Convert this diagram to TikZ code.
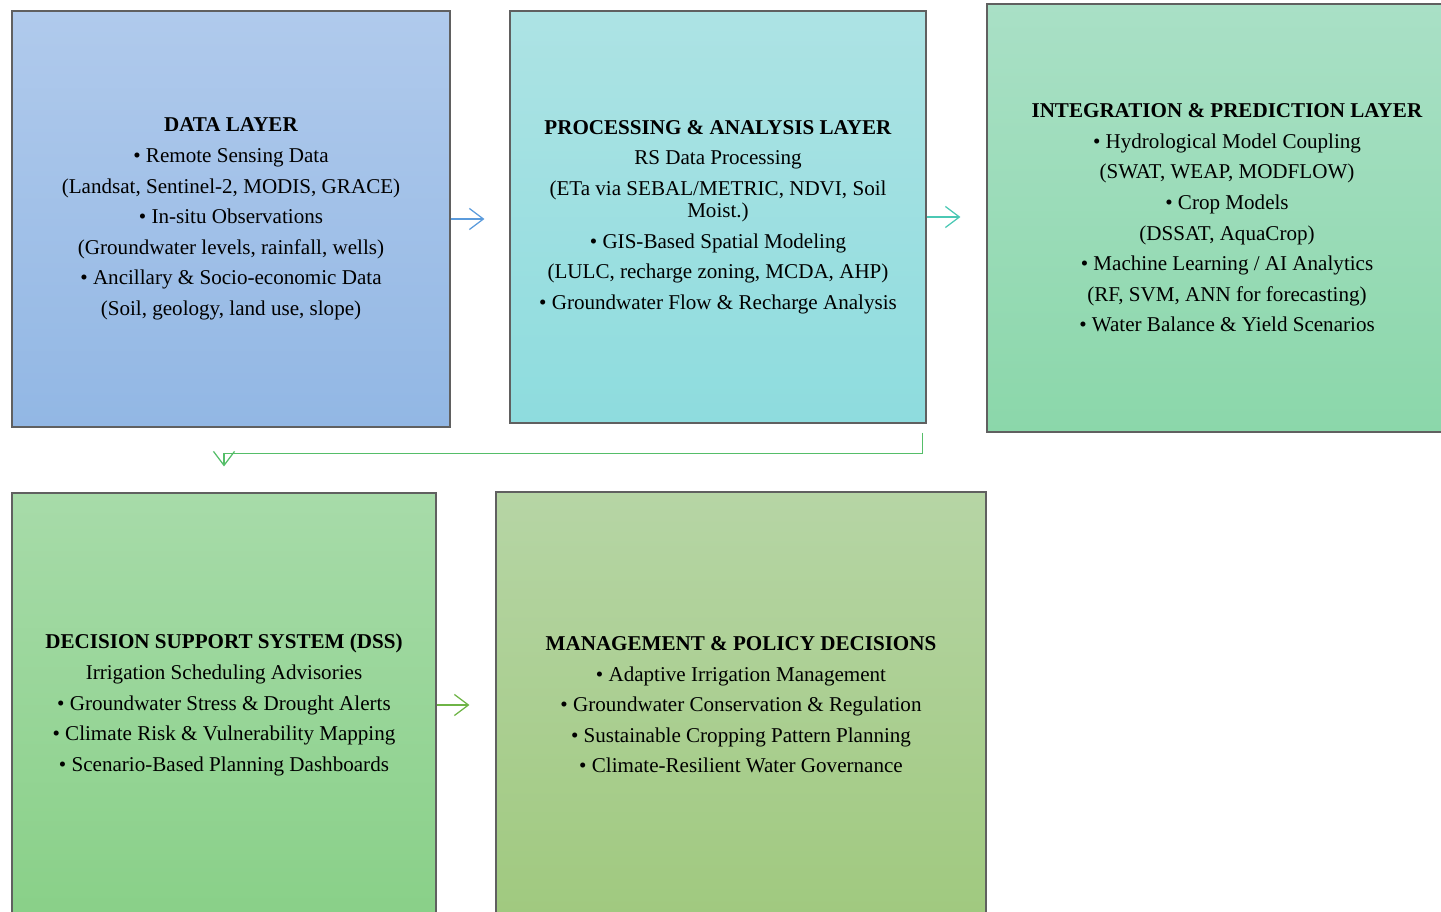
\documentclass[tikz,border=0pt]{standalone}
\usepackage{fontspec}
\setmainfont{Liberation Serif}
\usetikzlibrary{arrows.meta,positioning}
\definecolor{datatop}{RGB}{176,202,236}
\definecolor{databot}{RGB}{146,183,228}
\definecolor{proctop}{RGB}{173,227,228}
\definecolor{procbot}{RGB}{142,220,222}
\definecolor{integtop}{RGB}{169,224,198}
\definecolor{integbot}{RGB}{139,215,170}
\definecolor{dsstop}{RGB}{167,219,169}
\definecolor{dssbot}{RGB}{137,208,136}
\definecolor{mgmttop}{RGB}{182,213,165}
\definecolor{mgmtbot}{RGB}{160,201,127}
\definecolor{arrblue}{RGB}{91,155,220}
\definecolor{arrcyan}{RGB}{75,200,180}
\definecolor{arrgreen}{RGB}{85,190,105}
\definecolor{arrolive}{RGB}{110,180,70}

\begin{document}
\begin{tikzpicture}[x=0.02cm,y=-0.02cm,
    layerbox/.style={draw=gray!75!black, line width=0.7pt, align=center, inner sep=0pt,
        font=\fontsize{12}{12.5}\selectfont},
    flow/.style={-{Straight Barb[length=8pt,width=12pt]}, line width=0.7pt}]
    \useasboundingbox (0,0) rectangle (1441,912);
    \clip (0,0) rectangle (1441,912);

    \node[layerbox, top color=datatop, bottom color=databot,
        minimum width=8.76cm, minimum height=8.32cm] (data) at (231,219)
        {\textbf{DATA LAYER}\\[4.9pt]
        • Remote Sensing Data\\[4.9pt]
        (Landsat, Sentinel-2, MODIS, GRACE)\\[4.9pt]
        • In-situ Observations\\[4.9pt]
        (Groundwater levels, rainfall, wells)\\[4.9pt]
        • Ancillary \& Socio-economic Data\\[4.9pt]
        (Soil, geology, land use, slope)};

    \node[layerbox, top color=proctop, bottom color=procbot,
        minimum width=8.32cm, minimum height=8.24cm] (proc) at (718,217)
        {\textbf{PROCESSING \& ANALYSIS LAYER}\\[4.9pt]
        RS Data Processing\\[4.9pt]
        (ETa via SEBAL/METRIC, NDVI, Soil\\
        Moist.)\\[4.9pt]
        • GIS-Based Spatial Modeling\\[4.9pt]
        (LULC, recharge zoning, MCDA, AHP)\\[4.9pt]
        • Groundwater Flow \& Recharge Analysis};

    \node[layerbox, top color=integtop, bottom color=integbot,
        minimum width=9.6cm, minimum height=8.56cm] (integ) at (1227,218)
        {\textbf{INTEGRATION \& PREDICTION LAYER}\\[4.9pt]
        • Hydrological Model Coupling\\[4.9pt]
        (SWAT, WEAP, MODFLOW)\\[4.9pt]
        • Crop Models\\[4.9pt]
        (DSSAT, AquaCrop)\\[4.9pt]
        • Machine Learning / AI Analytics\\[4.9pt]
        (RF, SVM, ANN for forecasting)\\[4.9pt]
        • Water Balance \& Yield Scenarios};

    \node[layerbox, top color=dsstop, bottom color=dssbot,
        minimum width=8.48cm, minimum height=8.48cm] (dss) at (224,705)
        {\textbf{DECISION SUPPORT SYSTEM (DSS)}\\[4.9pt]
        Irrigation Scheduling Advisories\\[4.9pt]
        • Groundwater Stress \& Drought Alerts\\[4.9pt]
        • Climate Risk \& Vulnerability Mapping\\[4.9pt]
        • Scenario-Based Planning Dashboards};

    \node[layerbox, top color=mgmttop, bottom color=mgmtbot,
        minimum width=9.8cm, minimum height=8.52cm] (mgmt) at (741,705)
        {\textbf{MANAGEMENT \& POLICY DECISIONS}\\[4.9pt]
        • Adaptive Irrigation Management\\[4.9pt]
        • Groundwater Conservation \& Regulation\\[4.9pt]
        • Sustainable Cropping Pattern Planning\\[4.9pt]
        • Climate-Resilient Water Governance};

    % flow between layers
    \draw[flow, arrblue, shorten >=0.5cm] (data.east) -- (data.east -| proc.west);
    \draw[flow, arrcyan, shorten >=0.52cm] (proc.east) -- (proc.east -| integ.west);
    \draw[flow, arrgreen, shorten >=0.52cm]
        ([xshift=-0.08cm, yshift=-0.18cm]proc.south east) -- ++(0,21) -| (dss.north);
    \draw[flow, arrolive, shorten >=0.52cm] (dss.east) -- (mgmt.west);
\end{tikzpicture}
\end{document}
